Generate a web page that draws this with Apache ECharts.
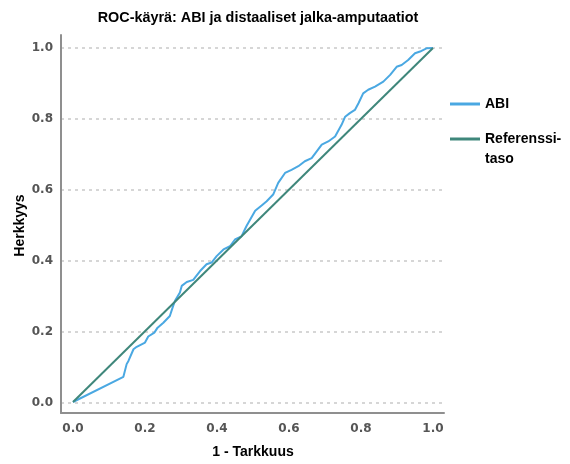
<!DOCTYPE html>
<html>
<head>
<meta charset="utf-8">
<script src="https://cdn.jsdelivr.net/npm/echarts@6/dist/echarts.min.js"></script>
<style>
  html, body { margin: 0; padding: 0; background: #ffffff; }
  #chart { width: 570px; height: 464px; }
</style>
</head>
<body>
<div id="chart"></div>
<script>
// ROC curve: ABI vs. distal foot amputations
const chartTitle = 'ROC-käyrä: ABI ja distaaliset jalka-amputaatiot';
const xAxisName = '1 - Tarkkuus';
const yAxisName = 'Herkkyys';
const axisTicks = [0.0, 0.2, 0.4, 0.6, 0.8, 1.0];

// ABI curve: false positive rate (1 - specificity) and sensitivity
const abiFpr = [0, 0.140, 0.149, 0.154, 0.168, 0.177, 0.200, 0.209, 0.226, 0.235, 0.251, 0.269, 0.278, 0.283,
  0.297, 0.302, 0.316, 0.334, 0.353, 0.371, 0.385, 0.399, 0.418, 0.436, 0.450, 0.468, 0.482, 0.506, 0.524,
  0.538, 0.556, 0.570, 0.589, 0.607, 0.626, 0.644, 0.663, 0.677, 0.691, 0.709, 0.728, 0.746, 0.756, 0.769,
  0.783, 0.793, 0.806, 0.820, 0.839, 0.862, 0.881, 0.899, 0.913, 0.931, 0.950, 0.964, 0.982, 1.000];
const abiTpr = [0, 0.071, 0.107, 0.116, 0.149, 0.156, 0.168, 0.185, 0.196, 0.210, 0.224, 0.243, 0.271, 0.285,
  0.309, 0.328, 0.339, 0.345, 0.370, 0.389, 0.394, 0.412, 0.431, 0.440, 0.459, 0.468, 0.497, 0.540, 0.555,
  0.567, 0.586, 0.619, 0.647, 0.656, 0.666, 0.680, 0.689, 0.708, 0.727, 0.736, 0.750, 0.783, 0.806, 0.816,
  0.825, 0.844, 0.872, 0.882, 0.891, 0.905, 0.924, 0.947, 0.952, 0.966, 0.985, 0.990, 0.999, 1.000];

// Diagonal reference line
const refFpr = [0, 1];
const refTpr = [0, 1];

const abiName = 'ABI';
const refName = 'Referenssi-\ntaso';

const abiColor = '#4aa8e2';
const refColor = '#3f877b';

const pairs = (xs, ys) => xs.map((x, i) => [x, ys[i]]);
const tickMin = axisTicks[0];
const tickMax = axisTicks[axisTicks.length - 1];
const tickStep = axisTicks[1] - axisTicks[0];

const labelStyle = { color: '#555555', fontFamily: 'DejaVu Sans', fontSize: 12, fontWeight: 'bold' };
const nameStyle = { color: '#000000', fontFamily: 'Liberation Sans', fontSize: 14, fontWeight: 'bold' };
const legendText = { color: '#000000', fontFamily: 'Liberation Sans', fontSize: 14, fontWeight: 'bold', lineHeight: 20 };

const chart = echarts.init(document.getElementById('chart'), null, { renderer: 'canvas' });

chart.setOption({
  animation: false,
  backgroundColor: '#ffffff',
  title: {
    text: chartTitle,
    left: 253,
    textAlign: 'center',
    top: 6,
    textStyle: { color: '#000000', fontFamily: 'Liberation Sans', fontSize: 14.4, fontWeight: 'bold' }
  },
  legend: [
    {
      data: [abiName],
      orient: 'vertical',
      left: 450,
      top: 94,
      padding: 0,
      itemWidth: 30,
      itemHeight: 3,
      icon: 'rect',
      textStyle: legendText
    },
    {
      // blank first line keeps the line icon level with the first text line
      data: [refName],
      orient: 'vertical',
      left: 450,
      top: 109,
      padding: 0,
      itemWidth: 30,
      itemHeight: 3,
      icon: 'rect',
      formatter: name => '\n' + name,
      textStyle: legendText
    }
  ],
  grid: [
    // frame holding the axis lines
    { left: 61, right: 126, top: 35, bottom: 51 },
    // horizontal gridlines and sensitivity labels
    { left: 61, right: 126, top: 48, bottom: 61 },
    // plotting area for the curves
    { left: 73, right: 137, top: 48, bottom: 61 }
  ],
  xAxis: [
    {
      gridIndex: 0, type: 'value', min: 0, max: 1,
      axisLine: { show: true, onZero: false, lineStyle: { color: '#8f8f8f', width: 2 } },
      axisTick: { show: false }, axisLabel: { show: false }, splitLine: { show: false }
    },
    { gridIndex: 1, type: 'value', min: tickMin, max: tickMax, show: false },
    {
      gridIndex: 2, type: 'value', min: tickMin, max: tickMax, interval: tickStep,
      axisLine: { show: false }, axisTick: { show: false }, splitLine: { show: false },
      axisLabel: { margin: 21, formatter: v => v.toFixed(1), ...labelStyle },
      name: xAxisName, nameLocation: 'middle', nameGap: 43, nameMoveOverlap: false, nameTextStyle: nameStyle
    }
  ],
  yAxis: [
    {
      gridIndex: 0, type: 'value', min: 0, max: 1,
      axisLine: { show: true, onZero: false, lineStyle: { color: '#8f8f8f', width: 2 } },
      axisTick: { show: false }, axisLabel: { show: false }, splitLine: { show: false }
    },
    {
      gridIndex: 1, type: 'value', min: tickMin, max: tickMax, interval: tickStep,
      axisLine: { show: false }, axisTick: { show: false },
      splitLine: { show: true, lineStyle: { color: '#c9c9c9', width: 1.5, type: [3, 4] } },
      axisLabel: { margin: 8, formatter: v => v.toFixed(1), ...labelStyle },
      name: yAxisName, nameLocation: 'middle', nameRotate: 90, nameGap: 34, nameMoveOverlap: false,
      nameTextStyle: nameStyle
    },
    { gridIndex: 2, type: 'value', min: tickMin, max: tickMax, show: false }
  ],
  series: [
    {
      name: abiName, type: 'line', xAxisIndex: 2, yAxisIndex: 2,
      data: pairs(abiFpr, abiTpr), showSymbol: false, symbol: 'none',
      lineStyle: { color: abiColor, width: 2 }, itemStyle: { color: abiColor }, z: 3
    },
    {
      name: refName, type: 'line', xAxisIndex: 2, yAxisIndex: 2,
      data: pairs(refFpr, refTpr), showSymbol: false, symbol: 'none',
      lineStyle: { color: refColor, width: 2 }, itemStyle: { color: refColor }, z: 4
    }
  ]
});
</script>
</body>
</html>
